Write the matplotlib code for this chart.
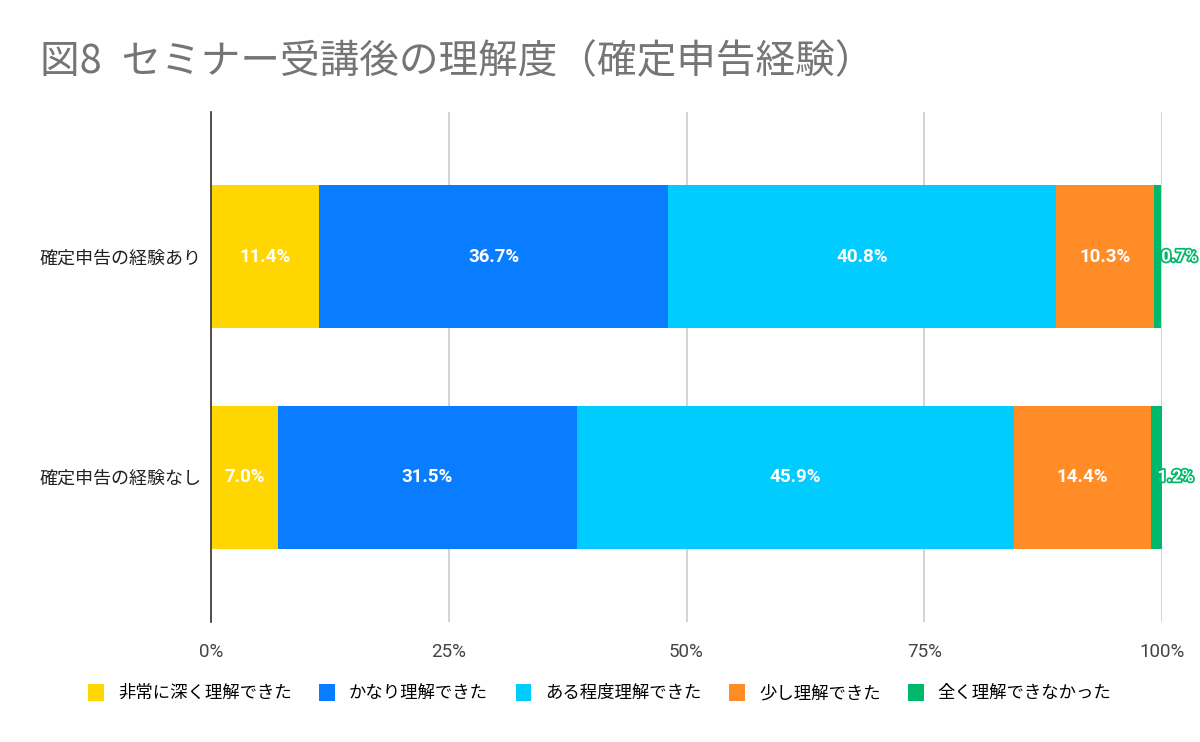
import numpy as np
import matplotlib
matplotlib.use('Agg')
import matplotlib.pyplot as plt
import matplotlib.patheffects as pe
from matplotlib.patches import Patch

plt.rcParams['font.family'] = ['Noto Sans CJK JP', 'DejaVu Sans']

# --- data ---
title = '図8\u2002セミナー受講後の理解度（確定申告経験）'
groups = ['確定申告の経験あり', '確定申告の経験なし']
answers = ['非常に深く理解できた', 'かなり理解できた', 'ある程度理解できた',
           '少し理解できた', '全く理解できなかった']
values = np.array([
    [11.4, 36.7, 40.8, 10.3, 0.7],
    [7.0, 31.5, 45.9, 14.4, 1.2],
])
colors = ['#FFD600', '#0A7CFF', '#00CCFF', '#FF8C26', '#00B86B']
xticks = [0, 25, 50, 75, 100]
xtick_labels = ['0%', '25%', '50%', '75%', '100%']


def main():
    fig = plt.figure(figsize=(12, 7.42), dpi=100)
    ax = fig.add_axes([211 / 1200, 120 / 742, 951 / 1200, 510 / 742])

    ypos = np.arange(len(groups))
    left = np.zeros(len(groups))
    for j, answer in enumerate(answers):
        ax.barh(ypos, values[:, j], left=left, height=0.65,
                color=colors[j], label=answer, zorder=3)
        for i in ypos:
            v = values[i, j]
            txt = f'{v:.1f}%'
            if v < 3:
                # tiny segment: label pushed to the right, outlined
                t = ax.annotate(txt, (left[i], i), xytext=(5, 0),
                                textcoords='offset points', ha='left',
                                va='center', color='white', fontsize=12,
                                fontweight='bold', family=['Roboto'], zorder=5)
                t.set_path_effects([pe.withStroke(linewidth=2.5,
                                                  foreground=colors[j])])
            else:
                ax.text(left[i] + v / 2, i, txt, ha='center', va='center',
                        color='white', fontsize=13.5, fontweight='bold',
                        family=['Roboto'], zorder=5)
        left = left + values[:, j]

    ax.set_xlim(0, 100)
    ax.set_ylim(1.659, -0.659)
    ax.set_xticks(xticks)
    ax.set_xticklabels(xtick_labels, family=['Roboto'], fontsize=13.5,
                       color='#444444')
    ax.set_yticks(ypos)
    ax.set_yticklabels(groups, fontsize=13, color='#222222')
    ax.tick_params(axis='x', length=0, pad=15)
    ax.tick_params(axis='y', length=0, pad=7)
    ax.xaxis.grid(True, color='#cccccc', linewidth=1.2, zorder=0)
    for side in ['top', 'right', 'bottom']:
        ax.spines[side].set_visible(False)
    ax.spines['left'].set_color('#333333')
    ax.spines['left'].set_linewidth(1.2)
    ax.spines['left'].set_zorder(4)

    fig.text(40 / 1200, 1 - 62 / 742, title, fontsize=28.5, color='#757575',
             ha='left', va='center')

    handles = [Patch(facecolor=c, label=a) for c, a in zip(colors, answers)]
    fig.legend(handles=handles, loc='center', ncol=5,
               bbox_to_anchor=(0.5, 1 - 693 / 742), frameon=False,
               fontsize=12.5, handlelength=0.9, handleheight=1.1,
               handletextpad=0.8, columnspacing=1.6)

    fig.savefig('out.png', dpi=100)


if __name__ == "__main__":
    main()
